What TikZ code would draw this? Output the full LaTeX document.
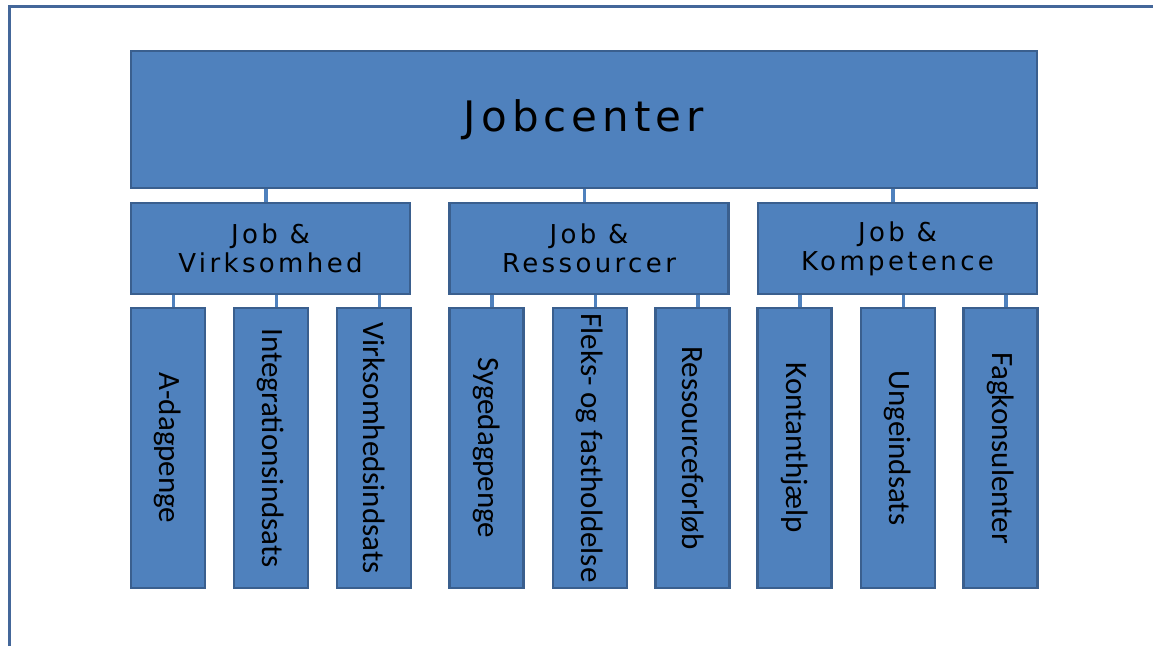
\documentclass[tikz,border=0pt]{standalone}
\usepackage{fontspec}
\newfontfamily\topfont[LetterSpace=12]{DejaVu Sans}
\newfontfamily\midfont[LetterSpace=13]{DejaVu Sans}
\newfontfamily\leaffont{Carlito}
\definecolor{boxfill}{HTML}{4F81BD}
\definecolor{boxline}{HTML}{3A5F8E}
\definecolor{framecol}{HTML}{44679A}
\tikzset{
  orgbox/.style={draw=boxline, fill=boxfill, line width=2.8pt, inner sep=0pt, align=center, text=black},
  topbox/.style={orgbox, minimum width=906pt, minimum height=137pt, font=\topfont\fontsize{42}{48}\selectfont},
  midbox/.style={orgbox, minimum width=279pt, minimum height=91pt, font=\midfont\fontsize{26}{29}\selectfont},
  leafbox/.style={orgbox, minimum width=74pt, minimum height=280pt},
  leaftext/.style={rotate=-90, inner sep=0pt, text=black, font=\leaffont\fontsize{31}{36}\selectfont},
  conn/.style={draw=boxfill, line width=3.5pt},
  frame/.style={draw=framecol, line width=3pt}
}
\begin{document}
\begin{tikzpicture}[x=1pt, y=-1pt]
\useasboundingbox (0,0) rectangle (1153,646);
\coordinate (fA) at (9,646);
\coordinate (fB) at (9,6);
\coordinate (fC) at (1153,6);
\draw[frame] (fA) -- (fB) -- (fC);

\node[topbox] (top) at (584,119.5) {Jobcenter};

\node[midbox] (m1) at (270.5,248.5) {Job \&\\Virksomhed};
\node[midbox] (m2) at (589,248.5) {Job \&\\Ressourcer};
\node[midbox] (m3) at (897.5,248.5) {Job \&\\Kompetence};

\foreach \m in {m1,m2,m3}{
  \draw[conn] ([xshift=-4.5pt]\m.north) -- ([xshift=-4.5pt]\m.north |- top.south);
}

\foreach \n/\x/\p/\t in {l1/168/m1/A-dagpenge, l2/271/m1/Integrationsindsats, l3/374/m1/Virksomhedsindsats,
  l4/486.5/m2/Sygedagpenge, l5/590/m2/Fleks- og fastholdelse, l6/692.5/m2/Ressourceforløb,
  l7/794.5/m3/Kontanthjælp, l8/898/m3/Ungeindsats, l9/1000.5/m3/Fagkonsulenter}{
  \node[leafbox] (\n) at (\x,448) {};
  \node[leaftext] (\n t) at (\n.center) {\t};
  \draw[conn] ([xshift=5.5pt]\n.north) -- ([xshift=5.5pt]\n.north |- \p.south);
}
\end{tikzpicture}
\end{document}
